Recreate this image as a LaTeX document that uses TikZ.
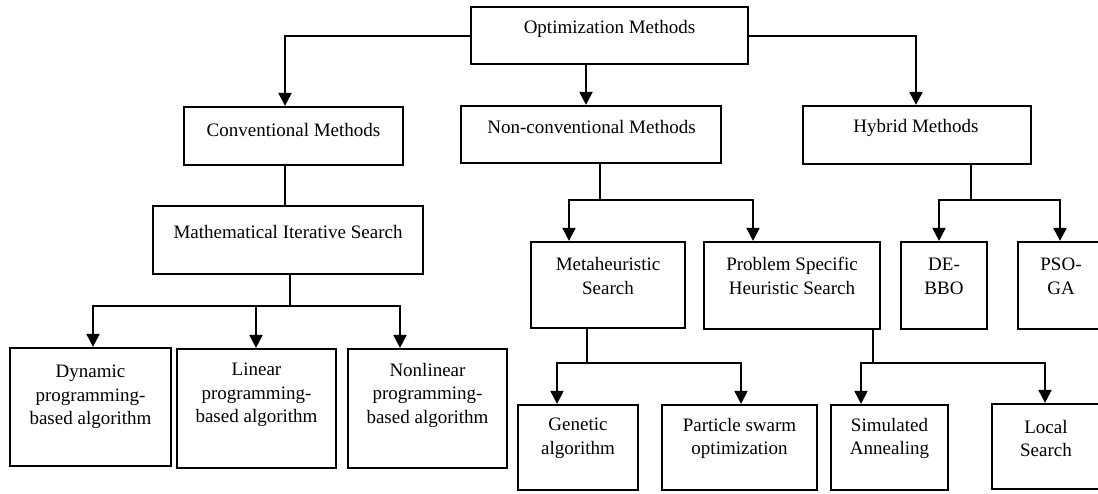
\documentclass[tikz,border=0pt]{standalone}
\usepackage{fontspec}
\setmainfont{Liberation Serif}
\usetikzlibrary{arrows.meta}
\begin{document}
\begin{tikzpicture}[x=1pt,y=-1pt,
  box/.style={draw=black, line width=2.2pt, fill=white, inner sep=0pt},
  txt/.style={align=center, font=\fontsize{19}{23.5}\selectfont, inner sep=0pt},
  link/.style={line width=2pt},
  arr/.style={line width=2pt, -{Triangle[width=13pt,length=13pt]}}]
\useasboundingbox (0,0) rectangle (1098,493);
\clip (0,0) rectangle (1098,493);
\fill[white] (0,0) rectangle (1098,493);

% boxes
\node[box, minimum width=277pt, minimum height=57pt] (opt) at (609.5,35.5) {};
\node[box, minimum width=219pt, minimum height=58pt] (conv) at (293.5,136) {};
\node[box, minimum width=260pt, minimum height=57pt] (nonconv) at (591,134.5) {};
\node[box, minimum width=228pt, minimum height=58pt] (hybrid) at (917,135) {};
\node[box, minimum width=270pt, minimum height=68pt] (math) at (288,240) {};
\node[box, minimum width=161pt, minimum height=118pt] (dyn) at (90.5,407) {};
\node[box, minimum width=159pt, minimum height=119pt] (lin) at (256.5,408.5) {};
\node[box, minimum width=159pt, minimum height=119pt] (nonlin) at (427.5,408.5) {};
\node[box, minimum width=154pt, minimum height=86pt] (meta) at (608,285) {};
\node[box, minimum width=176pt, minimum height=87pt] (prob) at (792,285.5) {};
\node[box, minimum width=86pt, minimum height=87pt] (debbo) at (944,285.5) {};
\node[box, minimum width=86pt, minimum height=87pt] (psoga) at (1061,285.5) {};
\node[box, minimum width=120pt, minimum height=85pt] (gen) at (578,447.5) {};
\node[box, minimum width=155pt, minimum height=85pt] (pso) at (739.5,447.5) {};
\node[box, minimum width=117pt, minimum height=85pt] (sim) at (889.5,447.5) {};
\node[box, minimum width=108pt, minimum height=85pt] (local) at (1046,446.5) {};

% texts
\node[txt] (optT) at (609.5,29) {Optimization Methods};
\node[txt] (convT) at (293.5,130) {Conventional Methods};
\node[txt] (nonconvT) at (591.5,127) {Non-conventional Methods};
\node[txt] (hybridT) at (916,128) {Hybrid Methods};
\node[txt] (mathT) at (288,232) {Mathematical Iterative Search};
\node[txt] (dynT) at (90.5,397) {Dynamic\\programming-\\based algorithm};
\node[txt] (linT) at (256.5,395) {Linear\\programming-\\based algorithm};
\node[txt] (nonlinT) at (427.5,395) {Nonlinear\\programming-\\based algorithm};
\node[txt] (metaT) at (608,276) {Metaheuristic\\Search};
\node[txt] (probT) at (792,276) {Problem Specific\\Heuristic Search};
\node[txt] (debboT) at (944,276.5) {DE-\\BBO};
\node[txt] (psogaT) at (1061,276.5) {PSO-\\GA};
\node[txt] (genT) at (578,438.5) {Genetic\\algorithm};
\node[txt] (psoT) at (739.5,438.5) {Particle swarm\\optimization};
\node[txt] (simT) at (889.5,438.5) {Simulated\\Annealing};
\node[txt] (localT) at (1046,438.5) {Local\\Search};

% junction points
\coordinate (mj) at (290,306);
\coordinate (nj) at (600,200);
\coordinate (hj) at (971,200);
\coordinate (metj) at (587,363);
\coordinate (pj) at (873,363);

% connectors from the root
\draw[arr] (opt.west) -| (285,0 |- conv.north);
\draw[arr] (586,0 |- opt.south) -- (586,0 |- nonconv.north);
\draw[arr] (opt.east) -| (916,0 |- hybrid.north);

% conventional branch
\draw[link] (285,0 |- conv.south) -- (285,0 |- math.north);
\draw[link] (290,0 |- math.south) -- (mj);
\draw[arr] (mj) -| (93,0 |- dyn.north);
\draw[arr] (mj) -| (256,0 |- lin.north);
\draw[arr] (mj) -| (400,0 |- nonlin.north);

% non-conventional branch
\draw[link] (600,0 |- nonconv.south) -- (nj);
\draw[arr] (nj) -| (569,0 |- meta.north);
\draw[arr] (nj) -| (753,0 |- prob.north);

% hybrid branch
\draw[link] (971,0 |- hybrid.south) -- (hj);
\draw[arr] (hj) -| (939,0 |- debbo.north);
\draw[arr] (hj) -| (1060,0 |- psoga.north);

% metaheuristic branch
\draw[link] (587,0 |- meta.south) -- (metj);
\draw[arr] (metj) -| (557,0 |- gen.north);
\draw[arr] (metj) -| (741,0 |- pso.north);

% problem specific branch
\draw[link] (873,0 |- prob.south) -- (pj);
\draw[arr] (pj) -| (861,0 |- sim.north);
\draw[arr] (pj) -| (1045,0 |- local.north);
\end{tikzpicture}
\end{document}
